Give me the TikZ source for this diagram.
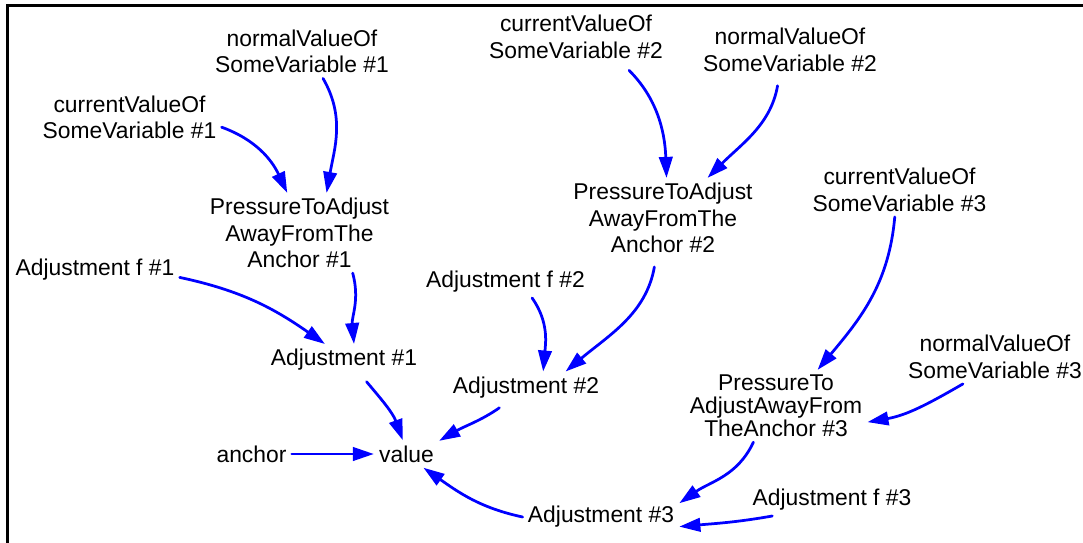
\documentclass[tikz,border=0pt]{standalone}
\usepackage{fontspec}
\setmainfont{Liberation Sans}
\usepackage{tikz}
\usetikzlibrary{arrows.meta}

\begin{document}
\begin{tikzpicture}[line cap=round,
	var/.style={align=center,inner sep=0.1cm,font=\fontsize{13}{15}\selectfont},
	flow/.style={draw=blue,line width=0.055cm,-{Triangle[length=0.42cm,width=0.27cm]}}]
	\useasboundingbox (0,0) rectangle (21.66,-10.86);
	\draw[line width=0.06cm,line cap=butt] (0.14,-10.86) -- (0.14,-0.12) -- (21.66,-0.12);
	\node[var] (cv1) at (2.59,-2.35) {currentValueOf\\SomeVariable \#1};
	\node[var] (nv1) at (6.04,-1.03) {normalValueOf\\SomeVariable \#1};
	\node[var] (p1) at (5.99,-4.66) {PressureToAdjust\\AwayFromThe\\Anchor \#1};
	\node[var] (af1) at (1.90,-5.40) {Adjustment f \#1};
	\node[var] (a1) at (6.88,-7.20) {Adjustment \#1};
	\node[var] (anc) at (5.03,-9.08) {anchor};
	\node[var] (val) at (8.13,-9.08) {value};
	\node[var] (cv2) at (11.52,-0.74) {currentValueOf\\SomeVariable \#2};
	\node[var] (nv2) at (15.80,-1.00) {normalValueOf\\SomeVariable \#2};
	\node[var] (p2) at (13.26,-4.36) {PressureToAdjust\\AwayFromThe\\Anchor \#2};
	\node[var] (af2) at (10.11,-5.64) {Adjustment f \#2};
	\node[var] (a2) at (10.52,-7.75) {Adjustment \#2};
	\node[var] (cv3) at (17.99,-3.80) {currentValueOf\\SomeVariable \#3};
	\node[var] (nv3) at (19.90,-7.14) {normalValueOf\\SomeVariable \#3};
	\node[var,font=\fontsize{13}{13}\selectfont] (p3) at (15.52,-8.12) {PressureTo\\AdjustAwayFrom\\TheAnchor \#3};
	\node[var] (af3) at (16.64,-10.00) {Adjustment f \#3};
	\node[var] (a3) at (12.02,-10.34) {Adjustment \#3};
	\draw[flow] (cv1.-6) to[out=-20,in=115] (p1.107);
	\draw[flow] (nv1.-52) to[out=-60,in=80] (p1.56);
	\draw[flow] (af1.-5) to[out=-12,in=145] (a1.140);
	\draw[flow] (p1.-37) to[out=-75,in=95] (a1.58);
	\draw[flow,shorten <=0.15cm] (a1.-42) to[out=-50,in=110] (val.105);
	\draw[flow] (anc) -- (val);
	\draw[flow] (af2.-31) to[out=-55,in=85] (a2.43);
	\draw[flow,shorten <=0.18cm] (cv2.-30) to[out=-45,in=92] (p2.85);
	\draw[flow,shorten <=0.18cm] (nv2.-112) to[out=-100,in=45] (p2.42);
	\draw[flow,shorten <=0.18cm] (p2.-100) to[out=-100,in=40] (a2.22);
	\draw[flow,shorten <=0.15cm] (a2.218) to[out=-145,in=30] (val.22);
	\draw[flow] (cv3.-100) to[out=-95,in=50] (p3.41);
	\draw[flow] (nv3.220) to[out=-150,in=10] (p3.-10);
	\draw[flow] (p3.238) to[out=-115,in=35] (a3.10);
	\draw[flow] (af3.195) to[out=-170,in=5] (a3.-7);
	\draw[flow] (a3.west) to[out=168,in=-35] (val.-39);
\end{tikzpicture}
\end{document}
